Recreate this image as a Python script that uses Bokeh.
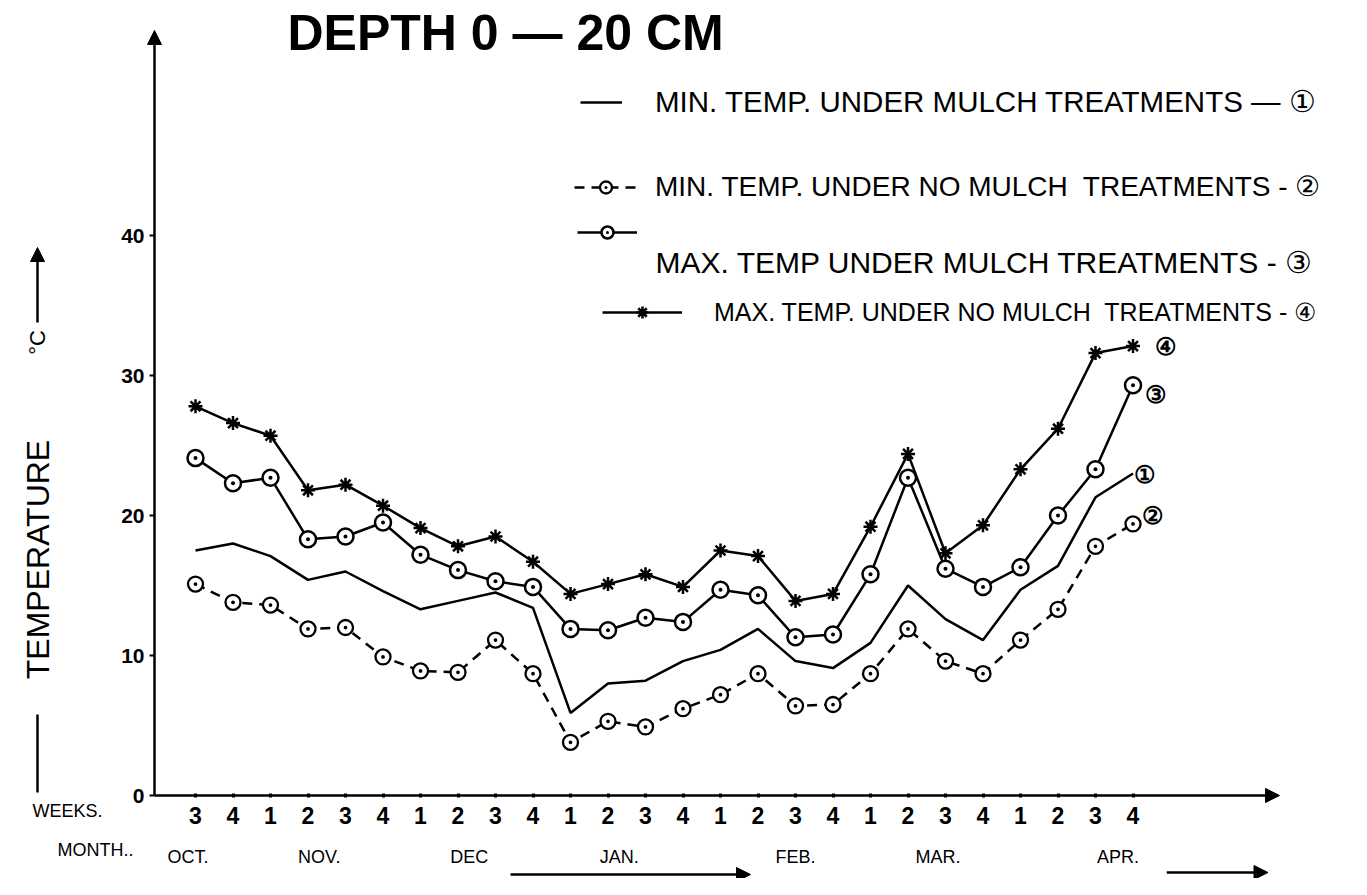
import math
from bokeh.plotting import figure
from bokeh.models import (Range1d, LinearAxis, FixedTicker, Legend, LegendItem,
                          Label, Arrow, NormalHead)
from bokeh.embed import file_html
from bokeh.resources import INLINE

# ---------------- data ----------------
week_labels = ["3", "4", "1", "2", "3", "4", "1", "2", "3", "4", "1", "2", "3",
               "4", "1", "2", "3", "4", "1", "2", "3", "4", "1", "2", "3", "4"]
month_labels = ["OCT.", "NOV.", "DEC", "JAN.", "FEB.", "MAR.", "APR."]
y_ticks = [0, 10, 20, 30, 40]

min_mulch = [17.5, 18.0, 17.1, 15.4, 16.0, 14.6, 13.3, 13.9, 14.5, 13.4, 5.9, 8.0, 8.2,
             9.6, 10.4, 11.9, 9.6, 9.1, 10.9, 15.0, 12.6, 11.1, 14.7, 16.4, 21.3, 23.0]
min_nomulch = [15.1, 13.8, 13.6, 11.9, 12.0, 9.9, 8.9, 8.8, 11.1, 8.7, 3.8, 5.3, 4.9,
               6.2, 7.2, 8.7, 6.4, 6.5, 8.7, 11.9, 9.6, 8.7, 11.1, 13.3, 17.8, 19.4]
max_mulch = [24.1, 22.3, 22.7, 18.3, 18.5, 19.5, 17.2, 16.1, 15.3, 14.9, 11.9, 11.8, 12.7,
             12.4, 14.7, 14.3, 11.3, 11.5, 15.8, 22.7, 16.2, 14.9, 16.3, 20.0, 23.3, 29.3]
max_nomulch = [27.8, 26.6, 25.7, 21.8, 22.2, 20.7, 19.1, 17.8, 18.5, 16.7, 14.4, 15.1, 15.8,
               14.9, 17.5, 17.1, 13.9, 14.4, 19.2, 24.4, 17.3, 19.3, 23.3, 26.2, 31.6, 32.1]

series_names = ["MIN. TEMP. UNDER MULCH TREATMENTS \u2014 \u2460",
                "MIN. TEMP. UNDER NO MULCH  TREATMENTS - \u2461",
                "MAX. TEMP UNDER MULCH  TREATMENTS - \u2462",
                "MAX. TEMP. UNDER NO MULCH  TREATMENTS - \u2463"]
end_tags = ["\u2460", "\u2461", "\u2462", "\u2463"]

week_index = list(range(len(week_labels)))

# ---------------- layout helpers (page pixel -> data units, for annotations only) ----------
def X(px):
    return (px - 203) / 37.5

def Y(py):
    return (803 - py) / 14.0

MONTH_POS10 = [-2, 33, 73, 113, 160, 198, 246]   # month label centres, in tenths of a week
FONT = "Liberation Sans"

# the frame fills the whole canvas (page pixel 8..1358 x 8..886)
p = figure(width=1350, height=878, output_backend="svg", toolbar_location=None,
           x_range=Range1d(X(8), X(1358)), y_range=Range1d(Y(886), Y(8)),
           min_border_left=0, min_border_right=0, min_border_top=0, min_border_bottom=0,
           x_axis_location=None, y_axis_location=None)
p.grid.visible = False
p.outline_line_color = None
p.background_fill_color = "white"
p.border_fill_color = "white"
p.extra_x_ranges = {"m10": Range1d(X(8) * 10, X(1358) * 10)}

# y axis: ticks + labels at the drawn axis line
yax = LinearAxis(fixed_location=X(162), ticker=FixedTicker(ticks=y_ticks),
                 axis_line_color=None, major_tick_out=5, major_tick_in=0,
                 major_tick_line_width=2, minor_tick_line_color=None,
                 major_label_standoff=5, major_label_text_font=FONT,
                 major_label_text_font_size="21px", major_label_text_font_style="bold",
                 major_label_text_color="black")
p.add_layout(yax, "left")

# week axis
wax = LinearAxis(fixed_location=0, ticker=FixedTicker(ticks=week_index),
                 major_label_overrides={i: w for i, w in zip(week_index, week_labels)},
                 axis_line_color=None, major_tick_in=2, major_tick_out=2,
                 major_tick_line_width=3, minor_tick_line_color=None,
                 major_label_standoff=9, major_label_text_font=FONT,
                 major_label_text_font_size="23px", major_label_text_font_style="bold",
                 major_label_text_color="black")
p.add_layout(wax, "below")

# month axis
max_ = LinearAxis(x_range_name="m10", fixed_location=0, ticker=FixedTicker(ticks=MONTH_POS10),
                  major_label_overrides={k: m for k, m in zip(MONTH_POS10, month_labels)},
                  axis_line_color=None, major_tick_line_color=None,
                  minor_tick_line_color=None, major_label_standoff=45,
                  major_label_text_font=FONT, major_label_text_font_size="18px",
                  major_label_text_color="black")
p.add_layout(max_, "below")

# axis lines with arrow heads
def head():
    return NormalHead(size=14, fill_color="black", line_color="black")

p.add_layout(Arrow(end=head(), x_start=X(162), y_start=0, x_end=X(162), y_end=Y(38),
                   line_width=2.5, line_color="black"))
p.add_layout(Arrow(end=head(), x_start=X(162), y_start=0, x_end=X(1287), y_end=0,
                   line_width=2.5, line_color="black"))
p.add_layout(Arrow(end=head(), x_start=8.4, y_start=Y(882), x_end=14.8, y_end=Y(882),
                   line_width=2.5, line_color="black"))
p.add_layout(Arrow(end=head(), x_start=25.9, y_start=Y(880), x_end=28.6, y_end=Y(880),
                   line_width=2.5, line_color="black"))

# series
r1 = p.line(week_index, min_mulch, line_width=2.5, line_color="black")
r2 = p.line(week_index, min_nomulch, line_width=2.5, line_color="black", line_dash="10 7")
s2 = p.scatter(week_index, min_nomulch, marker="circle_dot", size=15, fill_color="white",
               line_color="black", line_width=2.3)
r3 = p.line(week_index, max_mulch, line_width=2.5, line_color="black")
s3 = p.scatter(week_index, max_mulch, marker="circle_dot", size=16, fill_color="white",
               line_color="black", line_width=2.5)
r4 = p.line(week_index, max_nomulch, line_width=2.5, line_color="black")
s4 = p.scatter(week_index, max_nomulch, marker="asterisk", size=14,
               line_color="black", line_width=2.5)

# legends: one box per entry so each sits where it does in the original
def legend(item, loc, gw, standoff, size):
    return Legend(items=[item], location=loc, glyph_width=gw, glyph_height=30,
                  label_height=30, label_standoff=standoff, padding=0, margin=0,
                  spacing=0, border_line_color=None, background_fill_alpha=0,
                  label_text_font=FONT, label_text_font_size=size,
                  label_text_color="black")

p.add_layout(legend(LegendItem(label=series_names[0], renderers=[r1]),
                    (580, 759), 42, 33, "29.5px"), "center")
p.add_layout(legend(LegendItem(label=series_names[1], renderers=[r2, s2]),
                    (574, 675), 63, 18, "28px"), "center")
p.add_layout(legend(LegendItem(label=" ", renderers=[r3, s3]),
                    (577, 631), 60, 18, "28px"), "center")
p.add_layout(legend(LegendItem(label=series_names[3], renderers=[r4, s4]),
                    (602, 551), 80, 32, "25px"), "center")
p.add_layout(Label(x=X(663), y=Y(270), text=series_names[2], text_font=FONT,
                   text_font_size="30px", text_baseline="middle", text_color="black"))

# end tags next to the series
for tag, (px, py) in zip(end_tags, [(1152, 482), (1160, 523), (1163, 402), (1173, 354)]):
    p.add_layout(Label(x=X(px), y=Y(py), text=tag, text_font=FONT, text_font_size="24px",
                       text_font_style="bold", text_align="center", text_baseline="middle",
                       text_color="black"))

# title
p.add_layout(Label(x=X(295), y=Y(40), text="DEPTH  0 \u2014 20 CM", text_font=FONT,
                   text_font_size="50px", text_font_style="bold", text_baseline="middle",
                   text_color="black"))

# axis captions
p.add_layout(Label(x=X(75), y=Y(818), text="WEEKS.", text_font=FONT, text_font_size="18px",
                   text_align="center", text_baseline="middle", text_color="black"))
p.add_layout(Label(x=X(103), y=Y(857), text="MONTH..", text_font=FONT, text_font_size="18px",
                   text_align="center", text_baseline="middle", text_color="black"))
p.add_layout(Label(x=X(45), y=Y(567), text="TEMPERATURE", text_font=FONT,
                   text_font_size="32px", angle=math.pi / 2, text_align="center",
                   text_baseline="middle", text_color="black"))
p.add_layout(Label(x=X(45), y=Y(350), text="\u00b0C", text_font=FONT,
                   text_font_size="22px", angle=math.pi / 2, text_align="center",
                   text_baseline="middle", text_color="black"))
p.add_layout(Arrow(end=None, x_start=X(45), y_start=Y(800), x_end=X(45), y_end=Y(722),
                   line_width=2.5, line_color="black"))
p.add_layout(Arrow(end=head(), x_start=X(45), y_start=Y(330), x_end=X(45), y_end=Y(255),
                   line_width=2.5, line_color="black"))

open("out.html", "w").write(file_html(p, INLINE))
